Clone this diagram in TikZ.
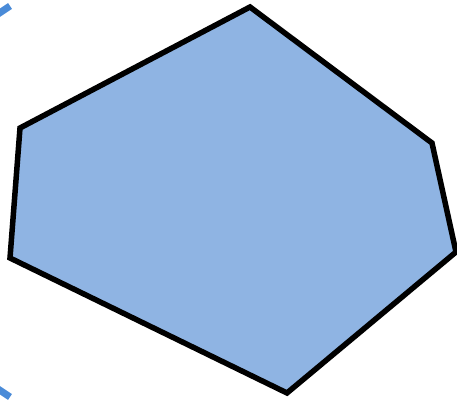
\documentclass[tikz,border=0pt]{standalone}
\usepackage{xcolor}
\definecolor{polyfill}{HTML}{8FB4E3}
\definecolor{markblue}{HTML}{4A8BD8}
\begin{document}
\begin{tikzpicture}[x=0.02cm,y=-0.02cm]
        %======definicao dos estilos==========%
        
            \tikzstyle{poly}=[fill=polyfill,draw=black,line width=0.11cm,line join=miter]
            \tikzstyle{marca}=[draw=markblue,line width=0.14cm]
        
        %====================%%=============%  
        
            \useasboundingbox (0,0) rectangle (457,401);
            \fill[white] (0,0) rectangle (457,401);
        
            \coordinate (A) at (250,7);
            \coordinate (B) at (432,143);
            \coordinate (C) at (456,252);
            \coordinate (D) at (287,393);
            \coordinate (E) at (10,258);
            \coordinate (F) at (20,128);
        
            \draw[poly] (A) -- (B) -- (C) -- (D) -- (E) -- (F) -- cycle;
        
            \coordinate (M1) at (-2,14);
            \coordinate (M2) at (10,6);
            \coordinate (M3) at (-2,389);
            \coordinate (M4) at (10,397);
        
            \draw[marca] (M1) -- (M2);
            \draw[marca] (M3) -- (M4);
        \end{tikzpicture}
\end{document}
